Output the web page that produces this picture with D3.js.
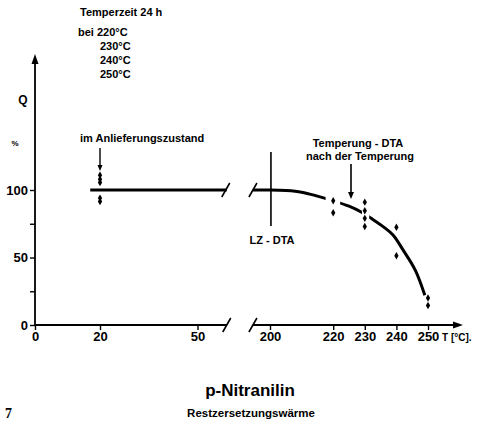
<!DOCTYPE html>
<html>
<head>
<meta charset="utf-8">
<script src="https://cdn.jsdelivr.net/npm/d3@7"></script>
<style>
  body { margin: 0; background: #fff; }
  svg { display: block; font-family: "Liberation Sans", Arial, sans-serif; }
  .lbl { font-weight: bold; fill: #000; }
</style>
</head>
<body>
<svg id="chart" width="484" height="425"></svg>
<script>
// ---- data ----
var leftTicks = [0, 20, 50];
var rightTicks = [200, 220, 230, 240, 250];
var yTicks = [0, 25, 50, 75, 100];
var yLabels = [0, 50, 100];

// as delivered (20 C)
var deliveredT = 20;
var deliveredQ = [111, 108, 105.5, 94, 91.5];
var deliveredLine = [17, 59]; // T range of the 100 % line

// after tempering
var tempT = [220, 220, 230, 230, 230, 230, 240, 240, 250, 250];
var tempQ = [92, 83.2, 91, 84.6, 79, 73, 72.4, 51.3, 20, 14.5];

// hand drawn curve
var curveT = [194.6, 200, 205, 210, 215, 220, 225, 229, 232, 236, 239, 242, 246, 249];
var curveQ = [100, 100, 99.6, 98.4, 95.5, 92, 88, 83.5, 79, 72.5, 66.5, 56, 40.5, 22];
var curveGaps = [[194.6, 217.6], [222.2, 229.1], [231.4, 249.5]];

var headerLines = ["bei 220°C", "230°C", "240°C", "250°C"];

// ---- scales ----
var svg = d3.select("#chart");
var xL = d3.scaleLinear().domain([0, 60]).range([35, 230]);
var xR = d3.scaleLinear().domain([200, 250]).range([270, 428]);
var y = d3.scaleLinear().domain([0, 100]).range([325, 190]);

function slash(x0, y0) {
    svg.append("line")
        .attr("x1", x0 - 4).attr("y1", y0 + 7)
        .attr("x2", x0 + 4).attr("y2", y0 - 7)
        .attr("stroke", "#000").attr("stroke-width", 1.6);
}

// ---- axes ----
var yAxis = d3.axisLeft(y).tickValues(yTicks).tickSize(5).tickPadding(2)
    .tickFormat(function(d) { return yLabels.indexOf(d) >= 0 ? d : ""; });
var gy = svg.append("g").attr("transform", "translate(35,0)").call(yAxis);

var gxl = svg.append("g").attr("transform", "translate(0,325)")
    .call(d3.axisBottom(xL).tickValues(leftTicks).tickSize(5).tickPadding(2));
var gxr = svg.append("g").attr("transform", "translate(0,325)")
    .call(d3.axisBottom(xR).tickValues(rightTicks).tickSize(5).tickPadding(2));

[gy, gxl, gxr].forEach(function(g) {
    g.select(".domain").remove();
    g.selectAll("line").attr("stroke", "#000").attr("stroke-width", 1.4);
    g.selectAll("text").attr("class", "lbl").style("font-size", "13px")
        .style("font-family", "Liberation Sans, Arial, sans-serif");
});

// axis lines
svg.append("line").attr("x1", 35).attr("y1", 326).attr("x2", 35).attr("y2", 60)
    .attr("stroke", "#000").attr("stroke-width", 1.8);
svg.append("path").attr("d", "M35,54 L31.5,64 L38.5,64 Z").attr("fill", "#000");

svg.append("line").attr("x1", 35).attr("y1", 325).attr("x2", xL(59)).attr("y2", 325)
    .attr("stroke", "#000").attr("stroke-width", 1.8);
slash(xL(59), 325);

svg.append("line").attr("x1", xR(194.6)).attr("y1", 325).attr("x2", 456).attr("y2", 325)
    .attr("stroke", "#000").attr("stroke-width", 1.8);
svg.append("path").attr("d", "M463,325 L453,321.5 L453,328.5 Z").attr("fill", "#000");
slash(xR(194.6), 325);

svg.append("text").attr("class", "lbl").attr("x", 442).attr("y", 341)
    .style("font-size", "10px").text("T [°C].");

svg.append("text").attr("class", "lbl").attr("x", 23).attr("y", 104)
    .attr("text-anchor", "middle").style("font-size", "12px").text("Q");
svg.append("text").attr("class", "lbl").attr("x", 15).attr("y", 146)
    .attr("text-anchor", "middle").style("font-size", "8px").text("%");

// ---- left part: as delivered ----
svg.append("line")
    .attr("x1", xL(deliveredLine[0])).attr("y1", y(100))
    .attr("x2", xL(deliveredLine[1])).attr("y2", y(100))
    .attr("stroke", "#000").attr("stroke-width", 3);
slash(xL(deliveredLine[1]) - 1, y(100));

var diamond = d3.symbol().type(d3.symbolDiamond).size(16);
svg.selectAll(".pl").data(deliveredQ).enter().append("path")
    .attr("transform", function(d) { return "translate(" + xL(deliveredT) + "," + y(d) + ")"; })
    .attr("d", diamond).attr("fill", "#000");

svg.append("text").attr("class", "lbl").attr("x", 80).attr("y", 142)
    .style("font-size", "11px").text("im Anlieferungszustand");
svg.append("line").attr("x1", xL(20)).attr("y1", 148).attr("x2", xL(20)).attr("y2", 166)
    .attr("stroke", "#000").attr("stroke-width", 1.4);
svg.append("path").attr("d", "M" + xL(20) + ",171 l-2.5,-6 l5,0 Z").attr("fill", "#000");

// ---- right part: after tempering ----
slash(xR(194.6), y(100));

var clip = svg.append("clipPath").attr("id", "gaps");
clip.selectAll("rect").data(curveGaps).enter().append("rect")
    .attr("x", function(d) { return xR(d[0]); })
    .attr("width", function(d) { return xR(d[1]) - xR(d[0]); })
    .attr("y", 0).attr("height", 425);

var line = d3.line()
    .x(function(d, i) { return xR(curveT[i]); })
    .y(function(d) { return y(d); })
    .curve(d3.curveCatmullRom.alpha(0.5));
svg.append("path").datum(curveQ)
    .attr("d", line).attr("fill", "none").attr("stroke", "#000")
    .attr("stroke-width", 3).attr("clip-path", "url(#gaps)");

svg.selectAll(".pr").data(tempQ).enter().append("path")
    .attr("transform", function(d, i) { return "translate(" + xR(tempT[i]) + "," + y(d) + ")"; })
    .attr("d", diamond).attr("fill", "#000");

// LZ-DTA marker
svg.append("line").attr("x1", xR(200.3)).attr("y1", 152).attr("x2", xR(200.3)).attr("y2", 226)
    .attr("stroke", "#000").attr("stroke-width", 1.6);
svg.append("text").attr("class", "lbl").attr("x", 272).attr("y", 244)
    .attr("text-anchor", "middle").style("font-size", "11px").text("LZ - DTA");

svg.append("text").attr("class", "lbl").attr("x", 358).attr("y", 147)
    .attr("text-anchor", "middle").style("font-size", "11px").text("Temperung - DTA");
svg.append("text").attr("class", "lbl").attr("x", 360).attr("y", 160)
    .attr("text-anchor", "middle").style("font-size", "11px").text("nach der Temperung");
svg.append("line").attr("x1", 351).attr("y1", 164).attr("x2", 351).attr("y2", 193)
    .attr("stroke", "#000").attr("stroke-width", 1.6);
svg.append("path").attr("d", "M351,199 l-3,-7 l6,0 Z").attr("fill", "#000");

// ---- header ----
svg.append("text").attr("class", "lbl").attr("x", 80).attr("y", 16)
    .style("font-size", "11px").text("Temperzeit 24 h");
svg.selectAll(".hd").data(headerLines).enter().append("text")
    .attr("class", "lbl")
    .attr("x", function(d, i) { return i === 0 ? 78 : 100; })
    .attr("y", function(d, i) { return 36 + i * 14; })
    .style("font-size", "11px").text(function(d) { return d; });

// ---- caption ----
svg.append("text").attr("class", "lbl").attr("x", 250).attr("y", 396)
    .attr("text-anchor", "middle").style("font-size", "17px").text("p-Nitranilin");
svg.append("text").attr("class", "lbl").attr("x", 251).attr("y", 417)
    .attr("text-anchor", "middle").style("font-size", "11.5px").text("Restzersetzungswärme");
svg.append("text").attr("x", 5).attr("y", 418)
    .style("font-family", "Liberation Serif, serif").style("font-size", "14px")
    .style("font-weight", "bold").text("7");
</script>
</body>
</html>
